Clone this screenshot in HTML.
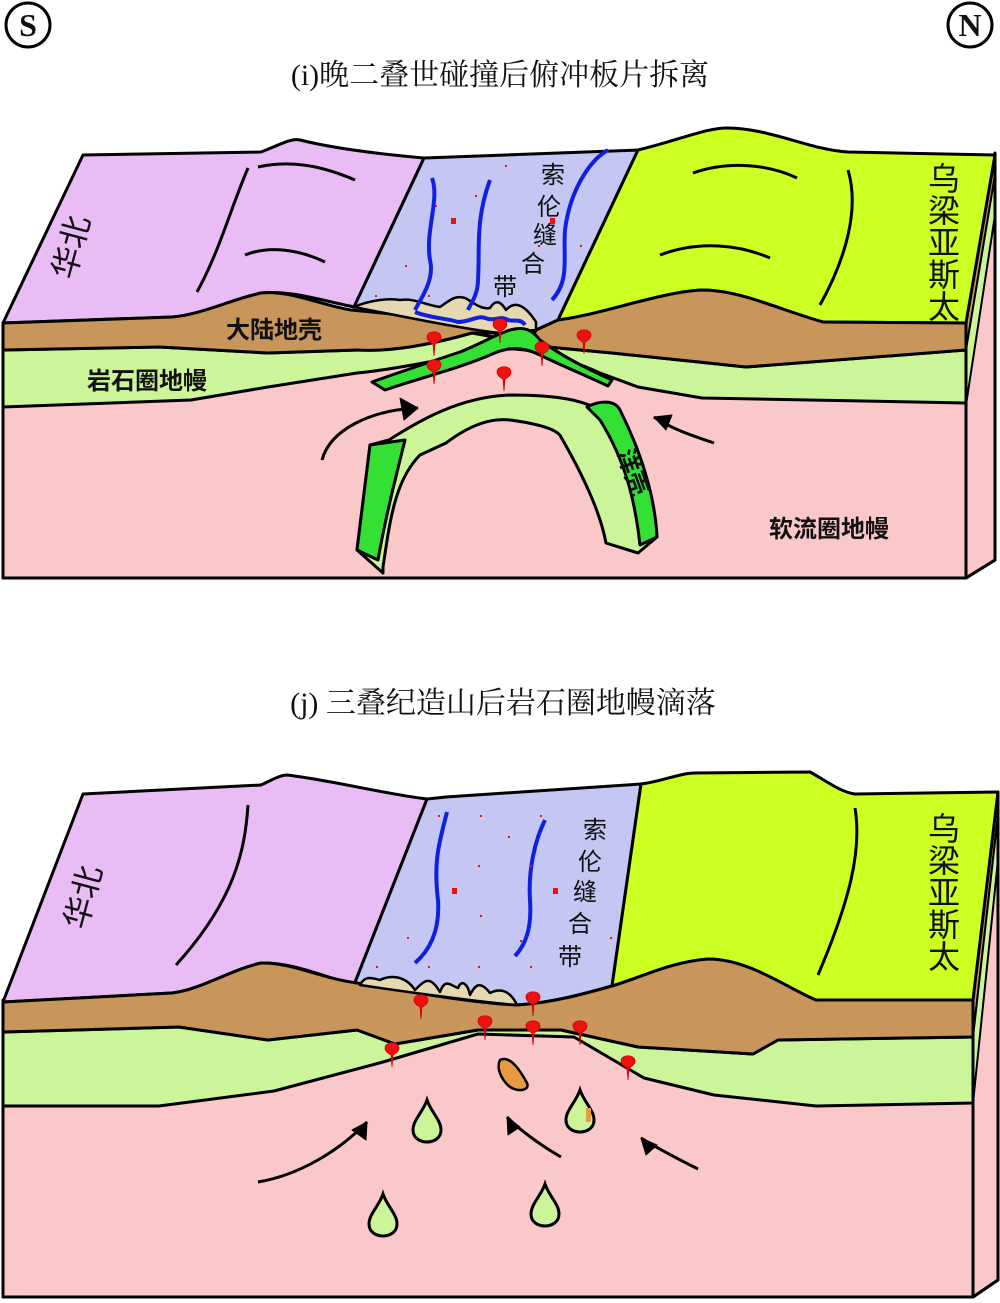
<!DOCTYPE html>
<html><head><meta charset="utf-8"><style>
html,body{margin:0;padding:0;background:#fff}
svg{display:block}
text{font-family:"Liberation Sans","Noto Sans CJK SC",sans-serif;fill:#111}
.t{font-family:"Liberation Serif","Noto Serif CJK SC",serif;font-size:30px}
.lb{font-size:24px;font-weight:bold}
</style></head><body>
<svg width="1000" height="1303" viewBox="0 0 1000 1303" xmlns="http://www.w3.org/2000/svg">
<defs>
<g id="pin"><path d="M-7,-3 C-7,-10 7,-10 7,-3 C7,1 3,3 1,4 L0,16 L-1,4 C-3,3 -7,1 -7,-3 Z" fill="#f01010" stroke="#c00" stroke-width="0.8"/></g>
<g id="drop"><path d="M0,-22 C4,-10 14,-2 14,8 C14,16 7,20 0,20 C-7,20 -14,16 -14,8 C-14,-2 -4,-10 0,-22 Z" fill="#ccf59a" stroke="#000" stroke-width="3"/></g>
</defs>
<g stroke="#000" stroke-width="3" fill="none"><circle cx="28" cy="25" r="22"/><circle cx="970" cy="25" r="22"/></g>
<text x="28" y="36" text-anchor="middle" style="font-family:'Liberation Serif',serif;font-size:32px;font-weight:bold">S</text>
<text x="970" y="36" text-anchor="middle" style="font-family:'Liberation Serif',serif;font-size:32px;font-weight:bold">N</text>
<text class="t" x="500" y="85" text-anchor="middle">(i)晚二叠世碰撞后俯冲板片拆离</text>
<text class="t" x="503" y="713" text-anchor="middle">(j) 三叠纪造山后岩石圈地幔滴落</text>

<g stroke="#000" stroke-width="3" stroke-linejoin="round">
<polygon points="966,323 995,153 995,560 966,578" fill="#fac8c8"/>
<polygon points="966,323 995,153 995,175 966,350" fill="#c8965a" stroke-width="2"/>
<polygon points="966,350 995,175 995,215 966,405" fill="#ccf59a" stroke-width="2"/>
<rect x="3" y="323" width="963" height="255" fill="#fac8c8"/>
<path d="M3,323 L83,155 L261,152 C280,145 290,138 300,140 C340,150 390,155 424,158 L354,307 C320,300 290,290 261,293 C230,300 200,315 172,317 Z" fill="#eabcf5"/>
<path d="M424,158 L638,150 L558,320 L536,330 C515,320 470,312 440,312 L354,307 Z" fill="#c4c6f4"/>
<path d="M638,150 C680,140 705,128 727,128 C770,128 810,150 848,152 L995,155 L966,323 L823,322 C780,310 740,290 702,290 C660,292 600,315 558,320 Z" fill="#ccff22"/>
<path d="M3,350 L159,347 L268,353 L357,350 L472,333 L548,347 L612,353 L746,367 L966,350 L966,403 L702,398 L638,387 L600,373 C560,355 520,345 490,350 C440,360 390,370 357,373 L268,387 L191,400 L3,407 Z" fill="#ccf59a"/>
<path d="M3,323 L172,317 C200,315 230,300 261,293 C290,290 320,305 351,310 C400,315 450,318 485,327 L500,333 L472,333 C430,345 390,352 357,350 L268,353 L159,347 L3,350 Z" fill="#c8965a"/>
<path d="M536,330 L558,320 C600,315 660,292 702,290 C740,290 780,310 823,322 L966,323 L966,350 L746,367 C700,362 640,356 612,353 L548,347 C535,342 532,336 536,330 Z" fill="#c8965a"/>
<path d="M354,307 C370,300 390,298 400,300 C415,298 425,305 440,307 C450,300 455,295 465,298 C470,300 480,310 490,308 C495,300 500,300 506,310 C515,300 525,305 536,322 L536,330 L500,333 C470,330 420,320 354,307 Z" fill="#e6d8b0" stroke-width="2.5"/>
<path d="M372,382 C400,372 430,362 460,352 C480,344 495,335 510,330 C525,326 532,330 540,340 C560,355 585,368 612,380 L608,386 C585,375 560,365 540,355 C520,345 505,348 490,355 C460,368 420,378 385,390 Z" fill="#33e033"/>
<path d="M357,550 L383,573 L383,567 C390,520 395,480 420,455 L446,443 C470,425 490,418 510,420 C540,424 558,430 561,437 C580,470 600,510 606,543 L638,553 L657,537 C650,480 640,440 610,415 C585,400 560,395 510,395 C460,397 420,420 389,440 L370,445 Z" fill="#ccf59a"/>
<path d="M357,550 L370,445 L405,440 C395,480 385,520 378,560 Z" fill="#33e033"/>
<path d="M587,407 C600,400 615,400 620,410 C640,450 655,495 657,537 L640,545 C635,500 625,460 600,420 Z" fill="#33e033"/>
<g stroke="#1020e0" stroke-width="4" fill="none">
<path d="M432,178 C440,200 425,230 430,260 C435,280 420,300 415,310"/>
<path d="M490,180 C475,220 480,250 478,280 C478,295 470,305 468,310"/>
<path d="M608,150 C590,160 570,190 565,230 C563,260 570,280 552,300"/>
<path d="M415,312 C430,318 445,318 458,322 C470,322 478,315 485,318 C495,322 500,315 508,320 C515,322 520,318 525,325"/>
</g>
<g fill="none">
<path d="M248,168 C230,210 220,250 197,292"/>
<path d="M258,167 C290,160 320,165 355,180"/>
<path d="M245,255 C270,245 300,250 325,262"/>
<path d="M693,173 C730,160 770,165 797,178"/>
<path d="M660,255 C700,240 740,245 770,258"/>
<path d="M848,170 C860,210 845,260 820,305"/>
<path d="M322,460 C330,430 370,410 418,408"/>
<path d="M714,443 C690,435 670,428 654,417"/>
</g>
<polygon points="418,408 400,398 404,420" fill="#000" stroke-width="1"/>
<polygon points="654,417 666,430 672,415" fill="#000" stroke-width="1"/>
<path d="M3,323 L3,578 L966,578 L995,560 L995,153 M966,323 L966,578" fill="none"/>
</g>
<use href="#pin" x="434" y="340"/><use href="#pin" x="500" y="327"/><use href="#pin" x="584" y="338"/>
<use href="#pin" x="542" y="350"/><use href="#pin" x="434" y="368"/><use href="#pin" x="504" y="375"/>
<g fill="#f01010"><rect x="451" y="218" width="5" height="6"/><rect x="550" y="218" width="5" height="6"/><rect x="505" y="165" width="2" height="2"/><rect x="475" y="195" width="2" height="2"/><rect x="435" y="205" width="2" height="2"/><rect x="405" y="265" width="2" height="2"/><rect x="538" y="245" width="2" height="2"/><rect x="580" y="245" width="2" height="2"/><rect x="375" y="295" width="2" height="2"/><rect x="428" y="295" width="2" height="2"/></g>
<text class="lb" x="274" y="338" text-anchor="middle">大陆地壳</text>
<text class="lb" x="147" y="389" text-anchor="middle">岩石圈地幔</text>
<text class="lb" x="829" y="537" text-anchor="middle">软流圈地幔</text>
<text class="lb" transform="translate(625,475) rotate(70)" text-anchor="middle">洋壳</text>
<g transform="translate(82,250) rotate(-75)"><text x="0" y="0" text-anchor="middle" style="font-size:32px">华北</text></g>
<g style="font-size:32px" text-anchor="middle"><text x="944" y="190">乌</text><text x="944" y="222">梁</text><text x="944" y="254">亚</text><text x="944" y="286">斯</text><text x="944" y="318">太</text></g>
<g style="font-size:24px" text-anchor="middle"><text x="553" y="183">索</text><text x="549" y="215">伦</text><text x="545" y="243">缝</text><text x="533" y="272">合</text><text x="505" y="295">带</text></g>

<g stroke="#000" stroke-width="3" stroke-linejoin="round">
<polygon points="973,1000 998,792 998,1280 973,1297" fill="#fac8c8"/>
<polygon points="973,1000 998,792 998,815 973,1037" fill="#c8965a" stroke-width="2"/>
<polygon points="973,1037 998,815 998,860 973,1103" fill="#ccf59a" stroke-width="2"/>
<rect x="3" y="1000" width="970" height="297" fill="#fac8c8"/>
<path d="M3,1002 L83,794 L261,785 C272,780 280,775 287,775 C330,780 390,795 427,799 L354,985 C320,975 290,962 261,963 C230,970 200,990 172,993 Z" fill="#eabcf5"/>
<path d="M427,799 L446,797 L641,784 L612,986 C580,995 550,1003 517,1005 C470,1000 400,990 354,985 Z" fill="#c4c6f4"/>
<path d="M641,784 C660,782 680,773 695,773 L810,772 C825,780 840,792 855,794 L998,792 L973,1000 L816,1000 C790,990 750,959 708,959 C670,962 640,978 612,986 Z" fill="#ccff22"/>
<path d="M3,1032 L179,1027 L268,1040 L357,1030 L395,1044 L478,1030 L561,1030 L638,1047 L753,1054 L778,1040 L973,1037 L973,1103 L816,1106 L714,1095 L644,1078 L574,1037 L478,1034 L383,1062 L274,1091 L159,1106 L3,1106 Z" fill="#ccf59a"/>
<path d="M3,1002 L172,993 C200,990 230,970 261,963 C290,962 320,978 357,983 C400,990 470,1003 517,1005 C550,1003 580,995 612,986 C640,978 670,962 708,959 C750,959 790,990 816,1000 L973,1000 L973,1037 L778,1040 L753,1054 L638,1047 L561,1030 L478,1030 L395,1044 L357,1030 L268,1040 L179,1027 L3,1032 Z" fill="#c8965a"/>
<path d="M360,985 C365,975 372,978 380,980 C390,975 405,975 415,990 C425,980 430,975 440,992 C445,978 450,985 458,988 C462,978 468,985 470,995 C475,985 480,980 490,993 C500,988 510,990 517,1005 C490,1003 420,994 360,985 Z" fill="#e6d8b0" stroke-width="2.5"/>
<g stroke="#1020e0" stroke-width="4" fill="none">
<path d="M447,812 C440,840 433,860 438,900 C440,930 430,950 415,963"/>
<path d="M545,820 C535,840 528,870 530,900 C532,930 525,945 515,956"/>
</g>
<g fill="none">
<path d="M248,805 C245,850 235,900 176,965"/>
<path d="M855,808 C862,850 850,900 818,975"/>
<path d="M258,1182 C300,1175 340,1150 367,1122"/>
<path d="M561,1157 C540,1145 520,1130 507,1117"/>
<path d="M698,1169 C680,1160 660,1150 641,1138"/>
</g>
<polygon points="367,1122 352,1130 366,1140" fill="#000" stroke-width="1"/>
<polygon points="507,1117 508,1135 520,1127" fill="#000" stroke-width="1"/>
<polygon points="641,1138 646,1155 657,1145" fill="#000" stroke-width="1"/>
<path d="M3,1002 L3,1297 L973,1297 L998,1280 L998,792 M973,1000 L973,1297" fill="none"/>
<path d="M500,1060 C510,1055 520,1070 527,1083 C530,1090 520,1092 512,1088 C505,1085 495,1070 500,1060 Z" fill="#e89a40" stroke-width="2.5"/>
</g>
<use href="#drop" x="427" y="1122"/><use href="#drop" x="580" y="1112"/><use href="#drop" x="383" y="1216"/><use href="#drop" x="545" y="1206"/>
<rect x="586" y="1108" width="5" height="14" fill="#e89a40"/>
<use href="#pin" x="421" y="1003"/><use href="#pin" x="533" y="1000"/><use href="#pin" x="485" y="1024"/><use href="#pin" x="533" y="1029"/><use href="#pin" x="580" y="1029"/><use href="#pin" x="392" y="1051"/><use href="#pin" x="628" y="1064"/>
<g fill="#f01010"><rect x="452" y="888" width="5" height="6"/><rect x="553" y="888" width="5" height="6"/><rect x="438" y="815" width="2" height="2"/><rect x="480" y="815" width="2" height="2"/><rect x="540" y="815" width="2" height="2"/><rect x="508" y="836" width="2" height="2"/><rect x="478" y="865" width="2" height="2"/><rect x="530" y="865" width="2" height="2"/><rect x="480" y="915" width="2" height="2"/><rect x="520" y="940" width="2" height="2"/><rect x="407" y="937" width="2" height="2"/><rect x="376" y="966" width="2" height="2"/><rect x="428" y="966" width="2" height="2"/><rect x="478" y="966" width="2" height="2"/><rect x="530" y="966" width="2" height="2"/><rect x="610" y="937" width="2" height="2"/></g>
<g transform="translate(94,900) rotate(-75)"><text x="0" y="0" text-anchor="middle" style="font-size:32px">华北</text></g>
<g style="font-size:32px" text-anchor="middle"><text x="944" y="840">乌</text><text x="944" y="872">梁</text><text x="944" y="904">亚</text><text x="944" y="936">斯</text><text x="944" y="968">太</text></g>
<g style="font-size:24px" text-anchor="middle"><text x="595" y="838">索</text><text x="590" y="870">伦</text><text x="585" y="900">缝</text><text x="580" y="932">合</text><text x="570" y="965">带</text></g>
</svg>
</body></html>
